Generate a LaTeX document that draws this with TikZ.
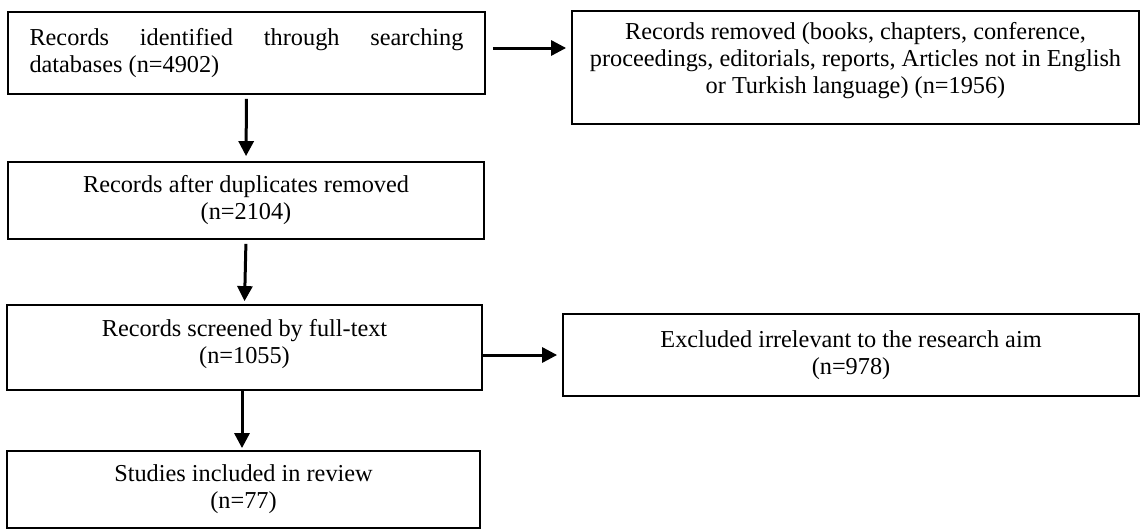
\documentclass[tikz,border=0pt]{standalone}
\usepackage{fontspec}
\setmainfont{Liberation Serif}
\usetikzlibrary{arrows.meta,calc}
\tikzset{
  boxnode/.style={draw=black, line width=1.8pt, rectangle, inner sep=0pt, align=center,
    font=\fontsize{24.3}{27}\selectfont},
  arr/.style={line width=3pt, -{Triangle[length=15pt,width=15pt]}},
}
\begin{document}
\begin{tikzpicture}[x=1pt,y=-1pt]
\useasboundingbox (0,0) rectangle (1141,530);
\node[boxnode, minimum width=477pt, minimum height=82pt, align=left] (b1) at (246.5,53)
  {\hbox to 434pt{Records\hfill identified\hfill through\hfill searching}\\databases (n=4902)};
\node[boxnode, minimum width=567pt, minimum height=113pt] (b2) at (855.5,67.5)
  {Records removed (books, chapters, conference,\\proceedings, editorials, reports, Articles not in English\\or Turkish language) (n=1956)\rule[-20pt]{0pt}{20pt}};
\node[boxnode, minimum width=476pt, minimum height=77pt] (b3) at (246,200.5)
  {Records after duplicates removed\\(n=2104)};
\node[boxnode, minimum width=475pt, minimum height=85pt] (b4) at (244.5,347.5)
  {Records screened by full-text\\(n=1055)\rule[-12pt]{0pt}{12pt}};
\node[boxnode, minimum width=576pt, minimum height=82pt] (b5) at (851,355)
  {Excluded irrelevant to the research aim\\(n=978)};
\node[boxnode, minimum width=473pt, minimum height=77pt] (b6) at (243.5,489.5)
  {Studies included in review\\(n=77)};
\coordinate (a1s) at ($(b1.east)+(0,-5)$);
\draw[arr, shorten <=7pt, shorten >=5pt] (a1s) -- (a1s -| b2.west);
\draw[arr, shorten <=4pt, shorten >=5pt] (b1.south) -- (b3.north);
\draw[arr, shorten <=4pt, shorten >=3pt] (b3.south) -- (b4.north);
\coordinate (a4s) at (b5.west -| b4.east);
\draw[arr, shorten >=5pt] (a4s) -- (b5.west);
\coordinate (a5s) at ($(b4.south)+(-2.5,0)$);
\draw[arr, shorten >=2pt] (a5s) -- (a5s |- b6.north);
\end{tikzpicture}
\end{document}
